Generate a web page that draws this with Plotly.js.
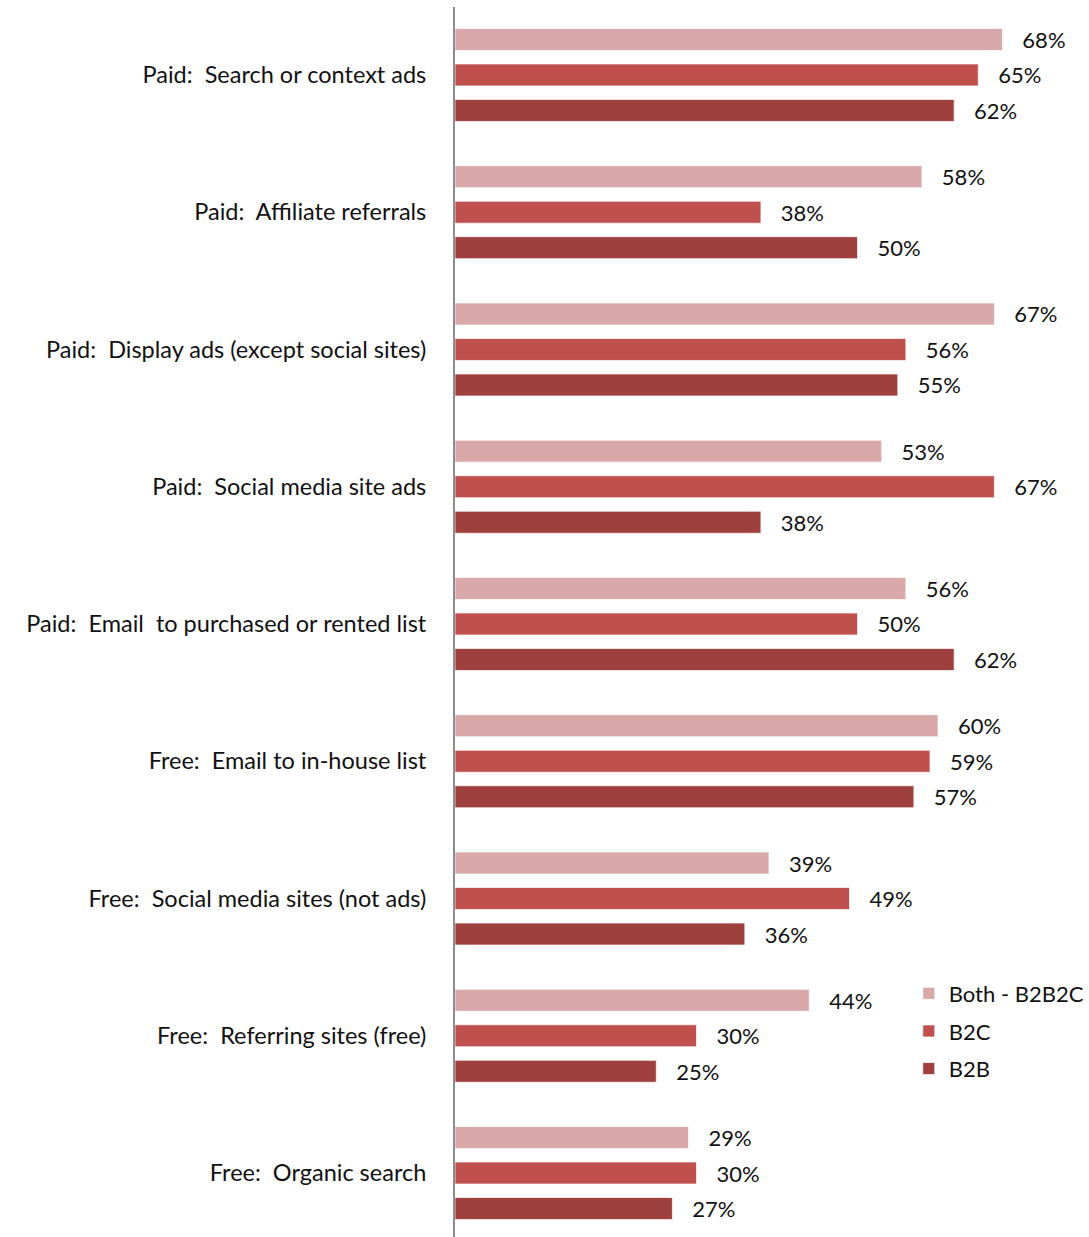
<!DOCTYPE html>
<html>
<head>
<meta charset="utf-8">
<script src="https://cdn.plot.ly/plotly-3.0.1.min.js"></script>
<style>html,body{margin:0;padding:0;background:#fff;}#chart{width:1089px;height:1237px;}</style>
</head>
<body>
<div id="chart"></div>
<script>
var categories = [
  "Paid:\u00A0 Search or context ads",
  "Paid:\u00A0 Affiliate referrals",
  "Paid:\u00A0 Display ads (except social sites)",
  "Paid:\u00A0 Social media site ads",
  "Paid:\u00A0 Email\u00A0 to purchased or rented list",
  "Free:\u00A0 Email to in-house list",
  "Free:\u00A0 Social media sites (not ads)",
  "Free:\u00A0 Referring sites (free)",
  "Free:\u00A0 Organic search"
];
var seriesNames = ["Both - B2B2C", "B2C", "B2B"];
var both = [68, 58, 67, 53, 56, 60, 39, 44, 29];
var b2c  = [65, 38, 56, 67, 50, 59, 49, 30, 30];
var b2b  = [62, 50, 55, 38, 62, 57, 36, 25, 27];
var colors = ["#D9A9A9", "#C0504D", "#9E403E"];
var values = [both, b2c, b2b];

var FONT = "Lato, 'Open Sans', sans-serif";
var traces = values.map(function(v, i){
  return {
    type: "bar",
    orientation: "h",
    name: seriesNames[i],
    legendgroup: "g" + i,
    y: categories,
    x: v,
    text: v.map(function(d){ return "\u00A0\u00A0\u00A0" + d + "%"; }),
    textposition: "outside",
    constraintext: "none",
    cliponaxis: false,
    textfont: {family: FONT, size: 22, color: "#111"},
    marker: {color: colors[i], line: {color: "rgba(255,255,255,0.7)", width: 1}},
    hoverinfo: "x+y"
  };
});

var layout = {
  width: 1089, height: 1237,
  margin: {l: 455, r: 0, t: 7, b: 0, pad: 0},
  paper_bgcolor: "#fff", plot_bgcolor: "#fff",
  barmode: "group",
  bargap: 0.224,
  bargroupgap: 0.38,
  font: {family: FONT, size: 22, color: "#111"},
  xaxis: {range: [0, 78.5], visible: false, showgrid: false, zeroline: false, fixedrange: true},
  yaxis: {
    type: "category",
    range: [8.466, -0.495],
    showline: true, linecolor: "#8c8c8c", linewidth: 2,
    showgrid: false, zeroline: false,
    ticks: "", ticklabelstandoff: 22,
    tickfont: {family: FONT, size: 23.5, color: "#111"}
  },
  showlegend: true,
  legend: {
    x: 0.718, y: 0.215, xanchor: "left", yanchor: "top",
    traceorder: "grouped",
    font: {family: FONT, size: 22, color: "#111"},
    itemwidth: 30, tracegroupgap: 6,
    bgcolor: "rgba(0,0,0,0)"
  }
};

Plotly.newPlot("chart", traces, layout, {displayModeBar: false, staticPlot: true});
</script>
</body>
</html>
